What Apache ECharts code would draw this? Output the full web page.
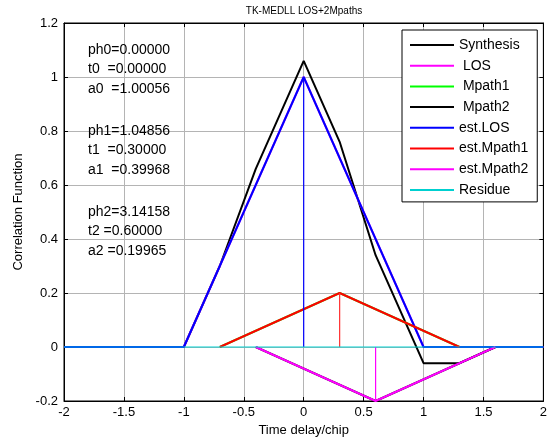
<!DOCTYPE html>
<html>
<head>
<meta charset="utf-8">
<script src="https://cdn.jsdelivr.net/npm/echarts@6/dist/echarts.min.js"></script>
<style>html,body{margin:0;padding:0;background:#fff}#c{width:550px;height:442px}</style>
</head>
<body>
<div id="c"></div>
<script>
// ---- data ----
var xTicks = { min: -2, max: 2, interval: 0.5 };
var yTicks = { min: -0.2, max: 1.2, interval: 0.2 };

var synthX = [-2, -1, -0.7, -0.4, 0, 0.3, 0.6, 1, 1.3, 1.6, 2];
var synthY = [0, 0, 0.30, 0.66, 1.06, 0.76, 0.34, -0.06, -0.06, 0, 0];

var losX = [-2, -1, 0, 1, 2];
var losY = [0, 0, 1.0, 0, 0];

var mp1X = [-0.7, 0.3, 1.3];
var mp1Y = [0, 0.2, 0];

var mp2X = [-0.4, 0.6, 1.6];
var mp2Y = [0, -0.2, 0];

var estLosX = [-2, -1, 0, 1, 2];
var estLosY = [0, 0, 1.0, 0, 0];

var estMp1X = [-0.7, 0.3, 1.3];
var estMp1Y = [0, 0.2, 0];

var estMp2X = [-0.4, 0.6, 1.6];
var estMp2Y = [0, -0.2, 0];

var residueX = [-2, 2];
var residueY = [0, 0];

// estimated delays and amplitudes (stems)
var stemX = [0, 0.3, 0.6];
var stemY = [1.0, 0.2, -0.2];

var legendNames = ['Synthesis', ' LOS', ' Mpath1', ' Mpath2', 'est.LOS', 'est.Mpath1', 'est.Mpath2', 'Residue'];

var annotations = [
  'ph0=0.00000', 't0  =0.00000', 'a0  =1.00056',
  'ph1=1.04856', 't1  =0.30000', 'a1  =0.39968',
  'ph2=3.14158', 't2 =0.60000', 'a2 =0.19965'
];

var titleText = 'TK-MEDLL LOS+2Mpaths';
var xName = 'Time delay/chip';
var yName = 'Correlation Function';

// ---- build ----
function pts(xs, ys) { return xs.map(function (x, i) { return [x, ys[i]]; }); }

var FONT = 'Liberation Sans, Arial, sans-serif';

function lineSeries(name, xs, ys, color, width, z) {
  return {
    name: name, type: 'line', data: pts(xs, ys), symbol: 'none', showSymbol: false,
    lineStyle: { color: color, width: width }, itemStyle: { color: color },
    animation: false, z: z, silent: true
  };
}

var series = [
  lineSeries(legendNames[0], synthX, synthY, '#000000', 2, 2),
  lineSeries(legendNames[1], losX, losY, '#ff00ff', 2, 2),
  lineSeries(legendNames[2], mp1X, mp1Y, '#00ff00', 2, 2),
  lineSeries(legendNames[3], mp2X, mp2Y, '#000000', 2, 2),
  lineSeries(legendNames[4], estLosX, estLosY, '#0000ff', 2, 3),
  lineSeries(legendNames[5], estMp1X, estMp1Y, '#ff0000', 2, 3),
  lineSeries(legendNames[6], estMp2X, estMp2Y, '#ff00ff', 2, 3),
  lineSeries(legendNames[7], residueX, residueY, '#00d0d0', 1, 4)
];
var stemColors = ['#0000ff', '#ff3030', '#ff00ff'];
stemX.forEach(function (x, i) {
  series.push(lineSeries('stem' + i, [x, x], [0, stemY[i]], stemColors[i], 1.2, 3));
});

var annGraphics = annotations.map(function (t, i) {
  var group = Math.floor(i / 3), k = i % 3;
  return {
    type: 'text', x: 88, y: 50 + group * 81 + k * 19.5,
    style: { text: t, font: '14px ' + FONT, fill: '#000', verticalAlign: 'middle' },
    z: 10
  };
});
annGraphics.push({
  type: 'text', x: 304, y: 11,
  style: { text: titleText, font: '10px ' + FONT, fill: '#000', align: 'center', verticalAlign: 'middle' }
});

var gridLine = { show: true, lineStyle: { color: '#b4b4b4', width: 1 } };
var axLine = { show: true, onZero: false, lineStyle: { color: '#000', width: 1 } };
var tick = { show: true, inside: true, length: 4, lineStyle: { color: '#000' } };
var lbl = { color: '#000', fontSize: 13, fontFamily: FONT };

var option = {
  animation: false,
  backgroundColor: '#fff',
  grid: { left: 64, right: 6, top: 23, bottom: 41, show: true, borderColor: '#000', borderWidth: 1 },
  xAxis: [
    { type: 'value', position: 'bottom', min: xTicks.min, max: xTicks.max, interval: xTicks.interval,
      axisLine: axLine, axisTick: tick, splitLine: gridLine,
      axisLabel: Object.assign({ margin: 5 }, lbl),
      name: xName, nameLocation: 'middle', nameGap: 22,
      nameTextStyle: { color: '#000', fontSize: 13, fontFamily: FONT } },
    { type: 'value', position: 'top', min: xTicks.min, max: xTicks.max, interval: xTicks.interval,
      axisLine: axLine, axisTick: tick, splitLine: { show: false }, axisLabel: { show: false } }
  ],
  yAxis: [
    { type: 'value', position: 'left', min: yTicks.min, max: yTicks.max, interval: yTicks.interval,
      axisLine: axLine, axisTick: tick, splitLine: gridLine,
      axisLabel: Object.assign({ margin: 6 }, lbl),
      name: yName, nameLocation: 'middle', nameGap: 34,
      nameTextStyle: { color: '#000', fontSize: 13, fontFamily: FONT } },
    { type: 'value', position: 'right', min: yTicks.min, max: yTicks.max, interval: yTicks.interval,
      axisLine: axLine, axisTick: tick, splitLine: { show: false }, axisLabel: { show: false } }
  ],
  legend: {
    data: legendNames, orient: 'vertical', left: 402, top: 30,
    icon: 'path://M0,0 L44,0 L44,2 L0,2 Z',
    padding: [8, 9, 5, 8], itemWidth: 44, itemHeight: 14, itemGap: 6.7,
    backgroundColor: '#fff', borderColor: '#000', borderWidth: 1, borderRadius: 0,
    textStyle: { color: '#000', fontSize: 14, fontFamily: FONT, lineHeight: 14 },
    selectedMode: false, z: 20
  },
  graphic: annGraphics,
  series: series
};

var chart = echarts.init(document.getElementById('c'), null, { renderer: 'canvas' });
chart.setOption(option);
</script>
</body>
</html>
